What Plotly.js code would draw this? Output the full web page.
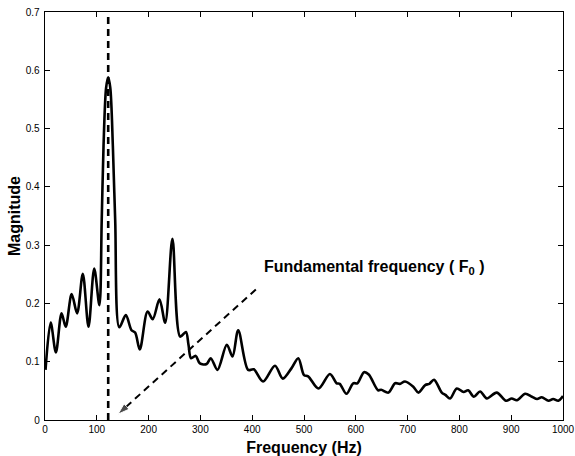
<!DOCTYPE html>
<html>
<head>
<meta charset="utf-8">
<script src="https://cdn.plot.ly/plotly-3.0.1.min.js"></script>
<style>html,body{margin:0;padding:0;background:#fff;}#chart{width:575px;height:456px;}</style>
</head>
<body>
<div id="chart"></div>
<script>
// Spectrum samples (Hz, magnitude)
const freq = [1, 11, 21, 32, 40, 51.5, 62, 73, 84, 95, 105, 109.5, 113, 118, 122, 126, 131, 135.5, 143.5, 156, 167, 174, 183, 198, 208, 221, 232, 246, 261, 272, 277, 282, 291, 299, 312, 320, 333, 351, 362, 373, 392, 403, 421, 444, 459, 476, 489, 500, 508, 528, 550, 563, 569, 582, 595, 603, 616, 625, 643, 649, 663, 676, 685, 695, 711, 721, 734, 742, 751, 766, 773, 782, 795, 808, 817, 828, 840, 853, 872, 890, 901, 911, 927, 940, 950, 959, 972, 981, 991, 1000];
const magnitude = [0.086, 0.167, 0.116, 0.183, 0.160, 0.216, 0.183, 0.251, 0.160, 0.260, 0.197, 0.343, 0.47, 0.57, 0.588, 0.57, 0.47, 0.343, 0.159, 0.180, 0.154, 0.150, 0.121, 0.186, 0.173, 0.207, 0.167, 0.311, 0.143, 0.151, 0.129, 0.106, 0.110, 0.097, 0.096, 0.106, 0.086, 0.129, 0.109, 0.154, 0.086, 0.087, 0.066, 0.093, 0.071, 0.089, 0.106, 0.077, 0.075, 0.054, 0.079, 0.063, 0.062, 0.045, 0.063, 0.063, 0.082, 0.078, 0.051, 0.052, 0.047, 0.063, 0.062, 0.066, 0.057, 0.047, 0.060, 0.062, 0.069, 0.047, 0.043, 0.037, 0.054, 0.048, 0.051, 0.040, 0.049, 0.037, 0.047, 0.033, 0.037, 0.034, 0.045, 0.040, 0.036, 0.039, 0.033, 0.036, 0.033, 0.041];

// Fundamental frequency marker
const f0 = 122;
const f0LineY = [0, 0.7];
// Arrow pointing to F0 (tail -> head)
const arrowX = [407, 141];
const arrowY = [0.224, 0.010];
const annotationText = 'Fundamental frequency ( F<sub>0</sub> )';
const annotationPos = {x: 419, y: 0.262};

const xTicks = [0, 100, 200, 300, 400, 500, 600, 700, 800, 900, 1000];
const yTicks = [0, 0.1, 0.2, 0.3, 0.4, 0.5, 0.6, 0.7];
const yTickText = ['0', '0.1', '0.2', '0.3', '0.4', '0.5', '0.6', '0.7'];

const font = 'Liberation Sans, Arial, Helvetica, sans-serif';

const traces = [
  {
    x: freq, y: magnitude, type: 'scatter', mode: 'lines',
    line: {color: '#000', width: 2.6, shape: 'spline', smoothing: 0.9},
    hoverinfo: 'skip', showlegend: false
  },
  {
    x: [f0, f0], y: f0LineY, type: 'scatter', mode: 'lines',
    line: {color: '#000', width: 2.6, dash: '7px,5px'},
    hoverinfo: 'skip', showlegend: false
  },
  {
    x: arrowX, y: arrowY, type: 'scatter', mode: 'lines+markers',
    line: {color: '#000', width: 2, dash: '7px,5px'},
    marker: {symbol: 'arrow', angleref: 'previous', size: [0, 12], color: '#000'},
    hoverinfo: 'skip', showlegend: false
  }
];

const layout = {
  width: 575, height: 456,
  margin: {l: 45, r: 12, t: 12, b: 36},
  paper_bgcolor: '#fff', plot_bgcolor: '#fff',
  font: {family: font, color: '#000', size: 10},
  xaxis: {
    range: [0, 1000], tickvals: xTicks, ticks: 'inside', ticklen: 5, tickcolor: '#000',
    showline: true, linecolor: '#000', linewidth: 1.3, mirror: 'ticks',
    ticklabeloverflow: 'allow',
    showgrid: false, zeroline: false, tickfont: {size: 10, family: font},
    title: {text: '<b>Frequency (Hz)</b>', font: {size: 16, family: font}, standoff: 12}
  },
  yaxis: {
    range: [0, 0.7], tickvals: yTicks, ticktext: yTickText, ticks: 'inside', ticklen: 5, tickcolor: '#000',
    showline: true, linecolor: '#000', linewidth: 1.3, mirror: 'ticks',
    ticklabeloverflow: 'allow', ticklabelstandoff: 2,
    showgrid: false, zeroline: false, tickfont: {size: 10, family: font},
    title: {text: '<b>Magnitude</b>', font: {size: 16, family: font}, standoff: 1}
  },
  annotations: [{
    x: annotationPos.x, y: annotationPos.y, xref: 'x', yref: 'y',
    text: '<b>' + annotationText + '</b>', showarrow: false,
    xanchor: 'left', yanchor: 'middle', font: {size: 16, family: font, color: '#000'}
  }]
};

Plotly.newPlot('chart', traces, layout, {displayModeBar: false, staticPlot: true});
</script>
</body>
</html>
